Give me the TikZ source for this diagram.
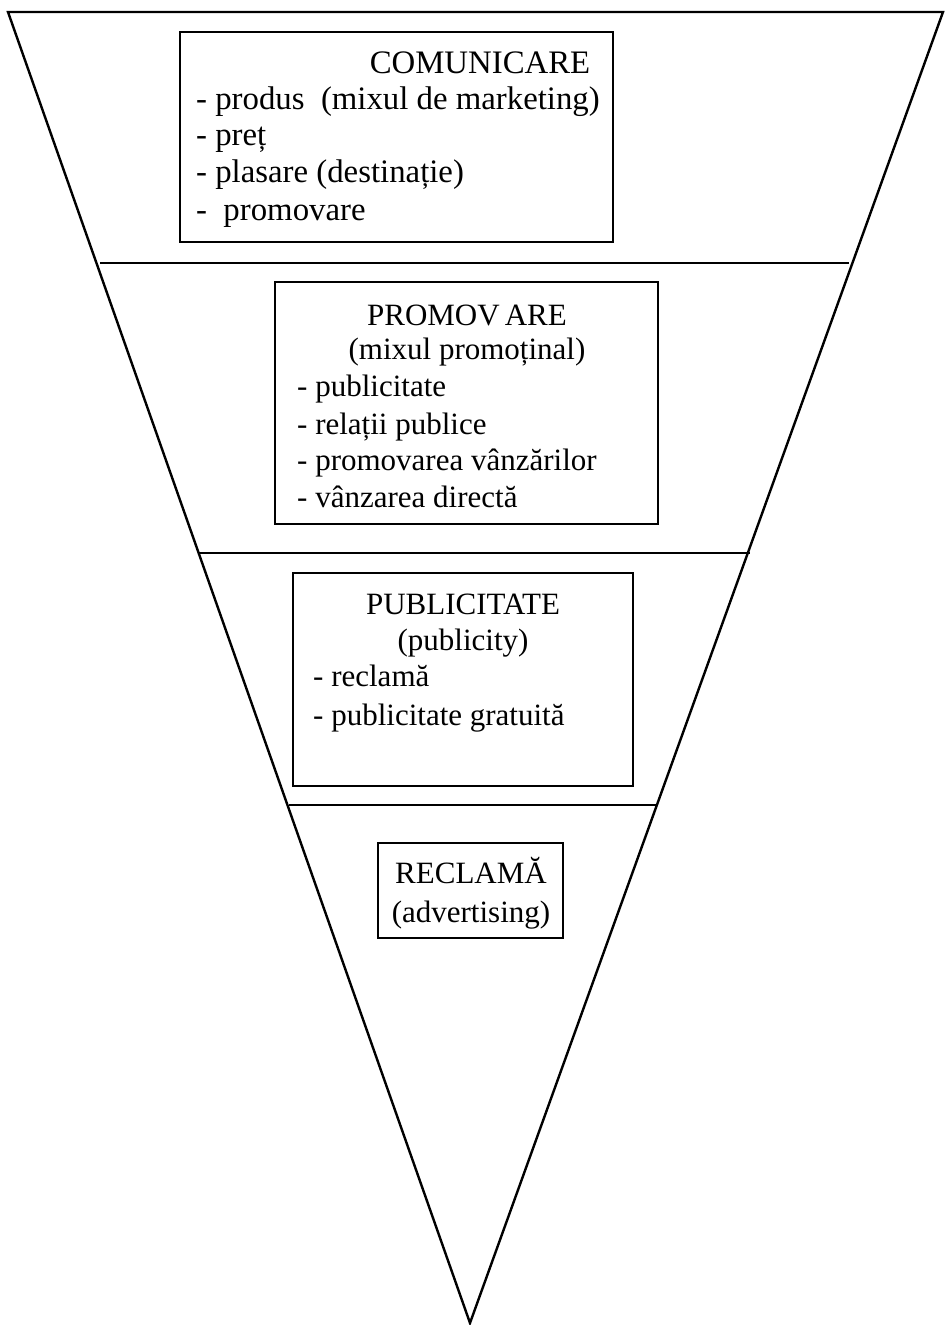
\documentclass[tikz,border=0pt]{standalone}
\usepackage{fontspec}
\setmainfont{Liberation Serif}
\begin{document}
\begin{tikzpicture}[x=1pt,y=-1pt,
  edge/.style={line width=2.4pt, line join=miter},
  boxframe/.style={draw, line width=2.2pt},
  bigtxt/.style={inner sep=0pt, font=\fontsize{32.8}{40}\selectfont},
  txt/.style={inner sep=0pt, font=\fontsize{31}{37}\selectfont},
  ctr/.style={anchor=base},
  lft/.style={anchor=base west}]
\useasboundingbox (0,0) rectangle (945,1325);
% funnel
\coordinate (tl) at (8,12);
\coordinate (tr) at (943,12);
\coordinate (ap) at (470,1323);
\draw[edge] (tl) -- (tr) -- (ap) -- cycle;
% separators
\coordinate (s1a) at (100,263); \coordinate (s1b) at (849,263);
\coordinate (s2a) at (198,553); \coordinate (s2b) at (750,553);
\coordinate (s3a) at (289,805); \coordinate (s3b) at (656,805);
\draw[edge] (s1a) -- (s1b);
\draw[edge] (s2a) -- (s2b);
\draw[edge] (s3a) -- (s3b);
% boxes
\draw[boxframe] (180,32) rectangle (613,242);
\draw[boxframe] (275,282) rectangle (658,524);
\draw[boxframe] (293,573) rectangle (633,786);
\draw[boxframe] (378,843) rectangle (563,938);
% box 1
\node[bigtxt,ctr] (c0) at (480,73) {COMUNICARE};
\node[bigtxt,lft] (c1) at (196,109) {- produs\ \ (mixul de marketing)};
\node[bigtxt,lft] (c2) at (196,145) {- preț};
\node[bigtxt,lft] (c3) at (196,182) {- plasare (destinație)};
\node[bigtxt,lft] (c4) at (196,220) {-\ \ promovare};
% box 2
\node[txt,ctr] (p0) at (467,325) {PROMOV\,ARE};
\node[txt,ctr] (p1) at (467,359) {(mixul promoținal)};
\node[txt,lft] (p2) at (297,396) {- publicitate};
\node[txt,lft] (p3) at (297,434) {- relații publice};
\node[txt,lft] (p4) at (297,470) {- promovarea vânzărilor};
\node[txt,lft] (p5) at (297,507) {- vânzarea directă};
% box 3
\node[txt,ctr] (u0) at (463,614) {PUBLICITATE};
\node[txt,ctr] (u1) at (463,650) {(publicity)};
\node[txt,lft] (u2) at (313,686) {- reclamă};
\node[txt,lft] (u3) at (313,725) {- publicitate gratuită};
% box 4
\node[txt,ctr] (r0) at (471,883) {RECLAMĂ};
\node[txt,ctr] (r1) at (471,922) {(advertising)};
\end{tikzpicture}
\end{document}
